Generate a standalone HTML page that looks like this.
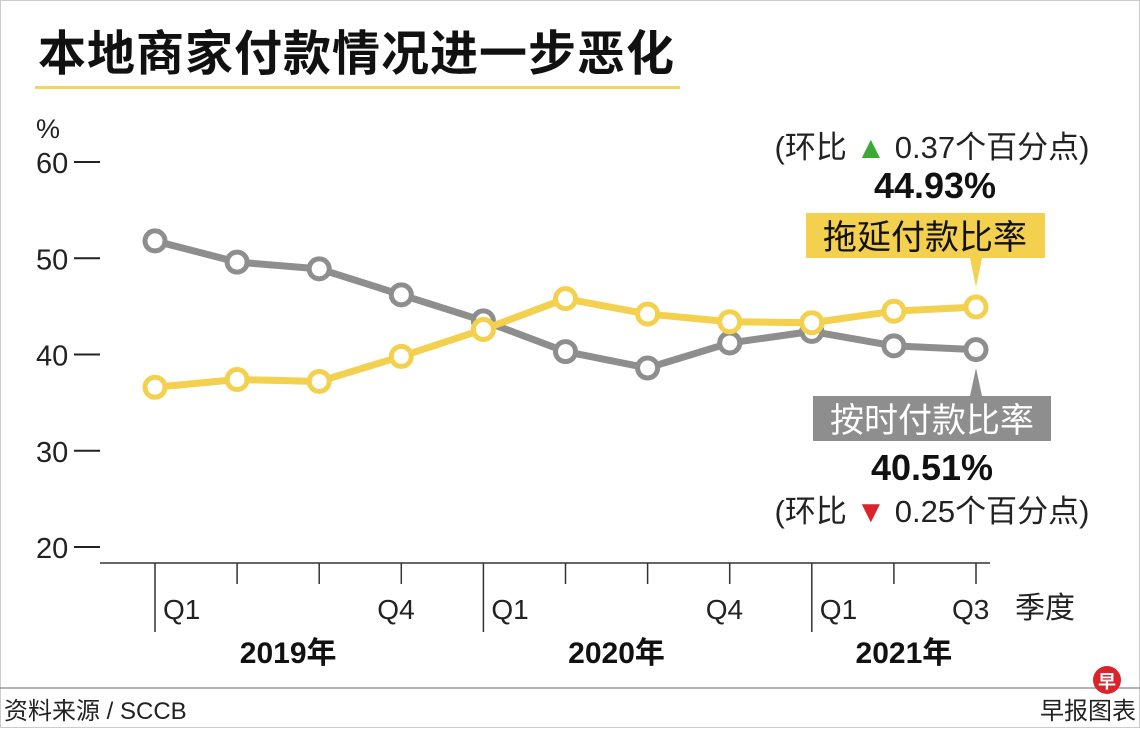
<!DOCTYPE html>
<html><head><meta charset="utf-8"><style>
body{margin:0;background:#fff;width:1140px;height:728px;overflow:hidden;font-family:"Liberation Sans","Noto Sans CJK SC",sans-serif}
svg text{font-family:"Liberation Sans","Noto Sans CJK SC",sans-serif}
</style></head><body>
<svg width="1140" height="728" viewBox="0 0 1140 728">
<rect x="0.5" y="0.5" width="1139" height="727" fill="#fff" stroke="#ccc"/>
<text x="38" y="70" font-size="48" font-weight="bold" fill="#111" letter-spacing="1">本地商家付款情况进一步恶化</text>
<rect x="35" y="86" width="645" height="3" fill="#f3d55a"/>
<text x="36" y="138" font-size="27" fill="#222">%</text>
<g id="yaxis"></g>
<g id="xaxis"></g>
<g id="series"></g>
<text x="932" y="158" font-size="31" fill="#222" text-anchor="middle">(环比 <tspan fill="#3aa935">▲</tspan> 0.37个百分点)</text>
<text x="935" y="198" font-size="36" font-weight="bold" fill="#111" text-anchor="middle">44.93%</text>
<rect x="806" y="213" width="239" height="45" fill="#f3d04d"/>
<polygon points="970,258 982,258 976,287" fill="#f3d04d"/>
<text x="925" y="249" font-size="34" fill="#111" text-anchor="middle">拖延付款比率</text>
<polygon points="970,396 982,396 976,368" fill="#8e8e8e"/>
<rect x="813" y="396" width="238" height="45" fill="#8e8e8e"/>
<text x="932" y="432" font-size="34" fill="#fff" text-anchor="middle">按时付款比率</text>
<text x="932" y="480" font-size="36" font-weight="bold" fill="#111" text-anchor="middle">40.51%</text>
<text x="932" y="522" font-size="31" fill="#222" text-anchor="middle">(环比 <tspan fill="#d9252a">▼</tspan> 0.25个百分点)</text>
<text x="1015" y="618" font-size="30" fill="#222">季度</text>
<line x1="0" y1="688" x2="1140" y2="688" stroke="#999" stroke-width="1.5"/>
<text x="4" y="719" font-size="24" fill="#222">资料来源 / SCCB</text>
<text x="1136" y="719" font-size="24" fill="#222" text-anchor="end">早报图表</text>
<circle cx="1107" cy="680" r="14" fill="#d9252a"/>
<text x="1107" y="688" font-size="18" font-weight="bold" fill="#fff" text-anchor="middle">早</text>
</svg>
<script>
const quarters=["Q1","Q2","Q3","Q4","Q1","Q2","Q3","Q4","Q1","Q2","Q3"];
const years=["2019年","2020年","2021年"];
const yTicks=[20,30,40,50,60];
const onTime=[51.8,49.6,48.9,46.2,43.5,40.3,38.6,41.2,42.4,40.9,40.51];
const delayed=[36.6,37.4,37.2,39.8,42.6,45.8,44.2,43.4,43.3,44.5,44.93];
const NS="http://www.w3.org/2000/svg";
function X(i){return 155+i*82.1;}
function Y(v){return 547-(v-20)*9.625;}
function mk(tag,attrs,parent){const e=document.createElementNS(NS,tag);for(const k in attrs)e.setAttribute(k,attrs[k]);parent.appendChild(e);return e;}
const ya=document.getElementById('yaxis'),xa=document.getElementById('xaxis'),sg=document.getElementById('series');
yTicks.forEach(t=>{
 const tx=mk('text',{x:36,y:Y(t)+11,'font-size':29,fill:'#222'},ya);tx.textContent=t;
 
 
 const l=mk('line',{x1:74,x2:100,y1:Y(t),y2:Y(t),stroke:'#222','stroke-width':2},ya);
 
 
});
const ax=mk('line',{x1:100,x2:990,y1:563,y2:563,stroke:'#333','stroke-width':1.5},xa);


quarters.forEach((q,i)=>{
 const major=(i%4===0);
 const t=mk('line',{x1:X(i),x2:X(i),y1:563,y2:major?632:584,stroke:'#333','stroke-width':1.5},xa);
 
 
 if(q==="Q1"||q==="Q4"||i===quarters.length-1){
  const tx=mk('text',{x:major?X(i)+8:X(i)-24,y:619,'font-size':28,fill:'#222'},xa);tx.textContent=q;
  
  
 }
});
[[0,3],[4,7],[8,10]].forEach((r,k)=>{
 const tx=mk('text',{x:(X(r[0])+X(r[1]))/2+10,y:663,'font-size':30,'font-weight':'bold',fill:'#111','text-anchor':'middle'},xa);
 tx.textContent=years[k];
 
 
});
function draw(vals,color,name){
 const p=mk('polyline',{points:vals.map((v,i)=>X(i)+','+Y(v)).join(' '),fill:'none',stroke:color,'stroke-width':7,'stroke-linejoin':'round'},sg);
 
 
 vals.forEach((v,i)=>{
  const c=mk('circle',{cx:X(i),cy:Y(v),r:10,fill:'#fff',stroke:color,'stroke-width':5},sg);
  
  
 });
}
draw(onTime,'#8e8e8e','ontime');
draw(delayed,'#f3d04d','delayed');
</script>
</body></html>
